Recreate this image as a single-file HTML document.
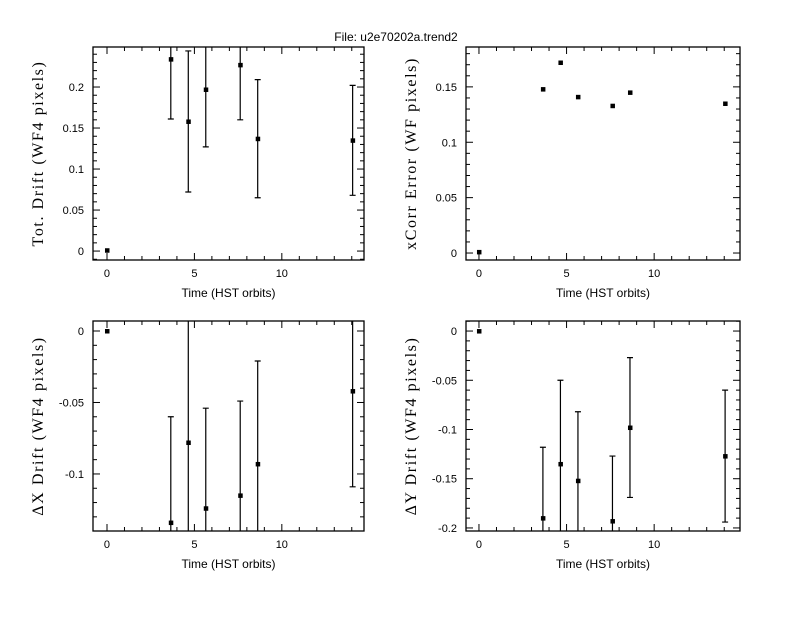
<!DOCTYPE html>
<html><head><meta charset="utf-8"><style>
body{margin:0;background:#fff;width:792px;height:612px;overflow:hidden}
svg text{font-family:"Liberation Sans",sans-serif;fill:#000}
.yt{font-family:"Liberation Serif",serif;font-size:16px;letter-spacing:1.6px}
</style></head><body>
<svg id="c" width="792" height="612">
<text x="396" y="41" text-anchor="middle" font-size="12">File: u2e70202a.trend2</text>
</svg>
<script>
const times = [0, 3.65, 4.65, 5.65, 7.62, 8.62, 14.05];
const totDrift = [0.001, 0.234, 0.158, 0.197, 0.227, 0.137, 0.135];
const totErr = [0, 0.073, 0.086, 0.07, 0.067, 0.072, 0.067];
const xcorrErr = [0.001, 0.148, 0.172, 0.141, 0.133, 0.145, 0.135];
const dxDrift = [0, -0.134, -0.078, -0.124, -0.115, -0.093, -0.042];
const dxErr = [0, 0.074, 0.09, 0.07, 0.066, 0.072, 0.067];
const dyDrift = [0, -0.19, -0.135, -0.152, -0.193, -0.098, -0.127];
const dyErr = [0, 0.072, 0.085, 0.07, 0.066, 0.071, 0.067];
const xTicks = [0, 5, 10];
const tot_yTicks = [0, 0.05, 0.1, 0.15, 0.2];
const xc_yTicks = [0, 0.05, 0.1, 0.15];
const dx_yTicks = [0, -0.05, -0.1];
const dy_yTicks = [0, -0.05, -0.1, -0.15, -0.2];

const svg = document.getElementById('c');
const NS = 'http://www.w3.org/2000/svg';
function mk(tag, attrs, parent){const e=document.createElementNS(NS,tag);for(const k in attrs)e.setAttribute(k,attrs[k]);(parent||svg).appendChild(e);return e;}

function panel(p){
  const g = mk('g',{});
  
  
  const L=p.l,R=p.r,T=p.t,B=p.b;
  const sx=v=>L+(v-p.xmin)/(p.xmax-p.xmin)*(R-L);
  const sy=v=>B-(v-p.ymin)/(p.ymax-p.ymin)*(B-T);
  const fr = mk('rect',{x:L,y:T,width:R-L,height:B-T,fill:'none',stroke:'#000','stroke-width':1.3},g);
  
  
  for(let v=Math.ceil(p.xmin);v<=p.xmax;v++){
    const maj=v%5===0, len=maj?7:4, x=sx(v);
    mk('line',{x1:x,x2:x,y1:B,y2:B-len,stroke:'#000'},g);
    mk('line',{x1:x,x2:x,y1:T,y2:T+len,stroke:'#000'},g);
  }
  xTicks.forEach(v=>{
    const t=mk('text',{x:sx(v),y:B+17,'text-anchor':'middle','font-size':11},g);
    t.textContent=v;
    
    
  });
  const st=0.01;
  for(let k=Math.ceil(p.ymin/st);k*st<=p.ymax+1e-9;k++){
    const v=k*st, maj=Math.abs(Math.round(v*100)%5)===0, len=maj?7:4, y=sy(v);
    mk('line',{x1:L,x2:L+len,y1:y,y2:y,stroke:'#000'},g);
    mk('line',{x1:R,x2:R-len,y1:y,y2:y,stroke:'#000'},g);
  }
  p.yt.forEach(v=>{
    const t=mk('text',{x:L-9,y:sy(v)+4,'text-anchor':'end','font-size':11},g);
    t.textContent=String(v);
    
    
  });
  const xl=mk('text',{x:(L+R)/2,y:B+37,'text-anchor':'middle','font-size':12},g);
  xl.textContent='Time (HST orbits)';
  
  
  const yl=mk('text',{x:0,y:0,'text-anchor':'middle',class:'yt',transform:`translate(${L-50},${(T+B)/2}) rotate(-90)`},g);
  yl.textContent=p.ylabel;
  
  
  const cl='clip'+p.name;
  const cp=mk('clipPath',{id:cl},g);
  mk('rect',{x:L,y:T,width:R-L,height:B-T},cp);
  const dg=mk('g',{'clip-path':`url(#${cl})`},g);
  times.forEach((tv,i)=>{
    const x=sx(tv), v=p.vals[i], y=sy(v);
    if(p.errs && p.errs[i]>0){
      const e=p.errs[i], y1=sy(v+e), y2=sy(v-e);
      const eb=mk('path',{d:`M${x},${y1}V${y2}M${x-3},${y1}H${x+3}M${x-3},${y2}H${x+3}`,stroke:'#000','stroke-width':1.2,fill:'none'},dg);
      
      
    }
    const pt=mk('rect',{x:x-2,y:y-2,width:4.5,height:4.5,fill:'#000'},dg);
    
    
  });
}
panel({name:'tot-drift-panel',l:93,r:364,t:47,b:260,xmin:-0.8,xmax:14.7,ymin:-0.0109,ymax:0.2488,yt:tot_yTicks,vals:totDrift,errs:totErr,ylabel:'Tot. Drift (WF4 pixels)'});
panel({name:'xcorr-error-panel',l:466,r:740,t:47,b:260,xmin:-0.74,xmax:14.9,ymin:-0.0063,ymax:0.186,yt:xc_yTicks,vals:xcorrErr,errs:null,ylabel:'xCorr Error (WF pixels)'});
panel({name:'dx-drift-panel',l:93,r:364,t:321,b:531,xmin:-0.8,xmax:14.7,ymin:-0.1399,ymax:0.007,yt:dx_yTicks,vals:dxDrift,errs:dxErr,ylabel:'ΔX Drift (WF4 pixels)'});
panel({name:'dy-drift-panel',l:466,r:740,t:321,b:531,xmin:-0.74,xmax:14.9,ymin:-0.2031,ymax:0.0102,yt:dy_yTicks,vals:dyDrift,errs:dyErr,ylabel:'ΔY Drift (WF4 pixels)'});
</script>
</body></html>
